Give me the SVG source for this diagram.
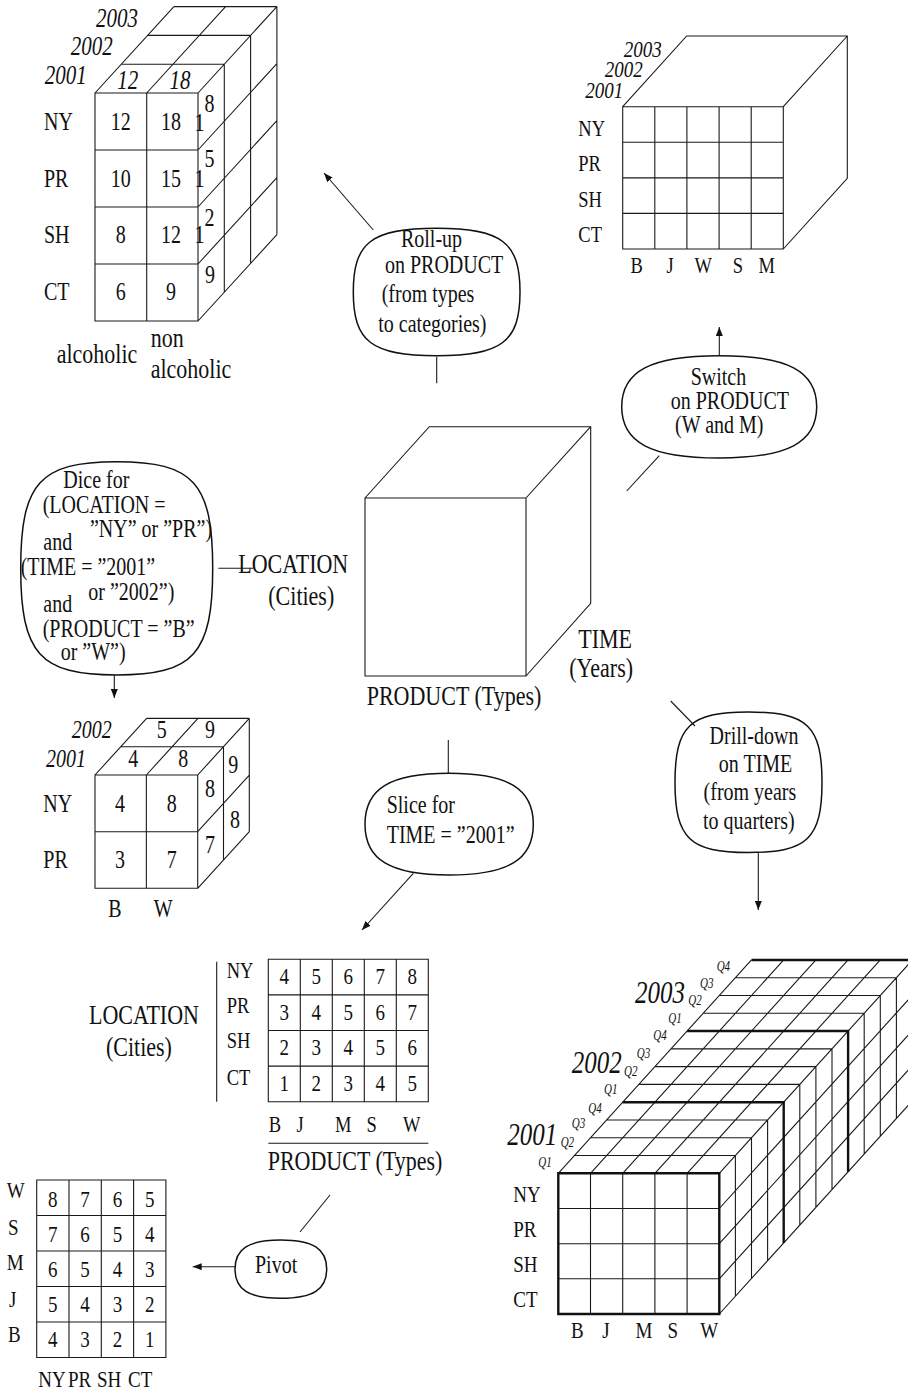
<svg xmlns="http://www.w3.org/2000/svg" width="908" height="1391" viewBox="0 0 908 1391">
<style>
text{font-family:"Liberation Serif","Times New Roman",serif;fill:#111;transform-box:fill-box;transform-origin:0 80.5%;transform:scaleY(1.25);}
.f11{font-size:11px}.f185{font-size:18.5px}.f19{font-size:19px}.f20{font-size:20px}.f21{font-size:21px}.f22{font-size:22px}.f25{font-size:25px}
.i{font-style:italic}
.m{text-anchor:middle}.e{text-anchor:end}
.ln{fill:none;stroke:#1a1a1a;stroke-width:1.1}
.th{fill:none;stroke:#111;stroke-width:2.4}
.bub{fill:#fff;stroke:#111;stroke-width:1.5}
.cn{fill:none;stroke:#1a1a1a;stroke-width:1.1}
</style>
<defs>
<marker id="ah" viewBox="0 0 10 10" refX="10" refY="5" markerWidth="9" markerHeight="7" markerUnits="userSpaceOnUse" orient="auto" preserveAspectRatio="none"><path d="M0,0 L10,5 L0,10 z" fill="#111"/></marker>
</defs>
<rect width="908" height="1391" fill="#fff"/>

<!-- Roll-up result cube -->
<g id="rollup-cube">
<path class="ln" d="M95,93 H198 V321 H95 Z M146.7,93 V321 M95,150 H198 M95,207 H198 M95,264 H198
M95,93 L173.9,6.6 M146.7,93 L225.6,6.6 M198,93 L276.9,6.6
M121.3,64.2 H224.3 M147.6,35.4 H250.6 M173.9,6.6 H276.9
M224.3,64.2 V292.2 M250.6,35.4 V263.4 M276.9,6.6 V234.6
M198,150 L276.9,63.6 M198,207 L276.9,120.6 M198,264 L276.9,177.6 M198,321 L276.9,234.6"/>
<text class="f21 i e" x="138" y="27">2003</text>
<text class="f21 i e" x="112.7" y="55">2002</text>
<text class="f21 i e" x="86.7" y="84">2001</text>
<text class="f21 i m" x="127.7" y="89">12</text>
<text class="f21 i m" x="180" y="89">18</text>
<text class="f20" x="44" y="130">NY</text>
<text class="f20" x="44" y="187">PR</text>
<text class="f20" x="44" y="243">SH</text>
<text class="f20" x="44" y="300">CT</text>
<text class="f20 m" x="120.7" y="130">12</text><text class="f20 m" x="171" y="130">18</text>
<text class="f20 m" x="120.7" y="187">10</text><text class="f20 m" x="171" y="187">15</text>
<text class="f20 m" x="120.7" y="243">8</text><text class="f20 m" x="171" y="243">12</text>
<text class="f20 m" x="120.7" y="300">6</text><text class="f20 m" x="171" y="300">9</text>
<text class="f20" x="194.5" y="130.7">1</text><text class="f20" x="204.5" y="112.5">8</text>
<text class="f20" x="194.5" y="186.7">1</text><text class="f20" x="204.5" y="167.5">5</text>
<text class="f20" x="194.5" y="243.3">1</text><text class="f20" x="204.5" y="226">2</text>
<text class="f20 m" x="210" y="283.3">9</text>
<text class="f22" x="56.7" y="363">alcoholic</text>
<text class="f22" x="150.7" y="347">non</text>
<text class="f22" x="150.7" y="378">alcoholic</text>
</g>

<!-- Switch result cube -->
<g id="switch-cube">
<path class="ln" d="M622.7,106.7 H783.3 V249 H622.7 Z M654.8,106.7 V249 M686.9,106.7 V249 M719.1,106.7 V249 M751.2,106.7 V249
M622.7,142.3 H783.3 M622.7,177.9 H783.3 M622.7,213.4 H783.3
M622.7,106.7 L686.7,36 H847.3 V178.3 L783.3,249 M783.3,106.7 L847.3,36"/>
<text class="f19 i e" x="661.7" y="56.7">2003</text>
<text class="f19 i e" x="642.7" y="76.7">2002</text>
<text class="f19 i e" x="623.3" y="98.3">2001</text>
<text class="f185" x="578.3" y="136">NY</text>
<text class="f185" x="578.3" y="170.7">PR</text>
<text class="f185" x="578.3" y="206.7">SH</text>
<text class="f185" x="578.3" y="241.7">CT</text>
<text class="f185 m" x="636.7" y="273.3">B</text>
<text class="f185 m" x="670" y="273.3">J</text>
<text class="f185 m" x="703.3" y="273.3">W</text>
<text class="f185 m" x="738" y="273.3">S</text>
<text class="f185 m" x="766.7" y="273.3">M</text>
</g>

<!-- Central cube -->
<g id="base-cube">
<path class="ln" d="M365,498 H526 V676 H365 Z M365,498 L429.3,426.7 H590.7 V603.3 L526,676 M526,498 L590.7,426.7"/>
<text class="f22" x="366.7" y="705">PRODUCT (Types)</text>
<text class="f22" x="578.3" y="648">TIME</text>
<text class="f22" x="569.3" y="677">(Years)</text>
<text class="f22" x="238.3" y="573.3">LOCATION</text>
<text class="f22" x="268.3" y="605">(Cities)</text>
</g>

<!-- Callouts -->
<g id="rollup-op">
<path class="bub" d="M436.65,228.3 C501.65,228.3 520,242.3 520,292 C520,341.7 501.65,355.7 436.65,355.7 C371.65,355.7 353.3,341.7 353.3,292 C353.3,242.3 371.65,228.3 436.65,228.3 Z"/>
<text class="f20" x="401" y="246.7">Roll-up</text>
<text class="f20" x="385" y="273.3">on PRODUCT</text>
<text class="f20" x="381.7" y="301.7">(from types</text>
<text class="f20" x="378.3" y="331.7">to categories)</text>
</g>
<g id="switch-op">
<path class="bub" d="M719.2,355.7 C787.45,355.7 816.7,371.05 816.7,406.85 C816.7,442.65 787.45,458 719.2,458 C650.95,458 621.7,442.65 621.7,406.85 C621.7,371.05 650.95,355.7 719.2,355.7 Z"/>
<text class="f20" x="690.7" y="385">Switch</text>
<text class="f20" x="670.7" y="409.3">on PRODUCT</text>
<text class="f20" x="675" y="433.2">(W and M)</text>
</g>
<g id="dice-op">
<path class="bub" d="M116.7,461.7 C193.5,461.7 212.7,483.05 212.7,568.35 C212.7,653.65 193.5,675 116.7,675 C39.9,675 20.7,653.65 20.7,568.35 C20.7,483.05 39.9,461.7 116.7,461.7 Z"/>
<text class="f20" x="63.3" y="488.3">Dice for</text>
<text class="f20" x="42.7" y="513.3">(LOCATION =</text>
<text class="f20" x="90" y="536.7">”NY” or ”PR”)</text>
<text class="f20" x="43.3" y="550">and</text>
<text class="f20" x="20.7" y="575">(TIME = ”2001”</text>
<text class="f20" x="88.3" y="600">or ”2002”)</text>
<text class="f20" x="43.3" y="611.7">and</text>
<text class="f20" x="42.7" y="636.7">(PRODUCT = ”B”</text>
<text class="f20" x="60.7" y="660">or ”W”)</text>
</g>
<g id="drilldown-op">
<path class="bub" d="M748.5,712 C807.3,712 822,726.05 822,782.25 C822,838.45 807.3,852.5 748.5,852.5 C689.7,852.5 675,838.45 675,782.25 C675,726.05 689.7,712 748.5,712 Z"/>
<text class="f20" x="709.6" y="744">Drill-down</text>
<text class="f20" x="718.8" y="772">on TIME</text>
<text class="f20" x="703.6" y="800">(from years</text>
<text class="f20" x="703" y="829">to quarters)</text>
</g>
<g id="slice-op">
<path class="bub" d="M449.15,773.3 C508.05,773.3 533.3,788.55 533.3,824.15 C533.3,859.75 508.05,875 449.15,875 C390.25,875 365,859.75 365,824.15 C365,788.55 390.25,773.3 449.15,773.3 Z"/>
<text class="f20" x="386.7" y="813.3">Slice for</text>
<text class="f20" x="386.7" y="843.3">TIME = ”2001”</text>
</g>
<g id="pivot-op">
<path class="bub" d="M280.85,1240 C312.95,1240 326.7,1248.75 326.7,1269.15 C326.7,1289.55 312.95,1298.3 280.85,1298.3 C248.75,1298.3 235,1289.55 235,1269.15 C235,1248.75 248.75,1240 280.85,1240 Z"/>
<text class="f20" x="255" y="1273.3">Pivot</text>
</g>

<!-- Dice result cube -->
<g id="dice-cube">
<path class="ln" d="M95,775 H197.7 V888.3 H95 Z M146.35,775 V888.3 M95,831.7 H197.7
M95,775 L146.6,718.4 M146.35,775 L197.95,718.4 M197.7,775 L249.3,718.4
M120.8,746.7 H223.5 M146.6,718.4 H249.3
M223.5,746.7 V860 M249.3,718.4 V831.7
M197.7,831.7 L249.3,775.1 M197.7,888.3 L249.3,831.7"/>
<text class="f20 i e" x="111.7" y="738.3">2002</text>
<text class="f20 i e" x="86" y="766.7">2001</text>
<text class="f20 m" x="161.7" y="738.3">5</text><text class="f20 m" x="210" y="738.3">9</text>
<text class="f20 m" x="133.3" y="766.7">4</text><text class="f20 m" x="183.3" y="766.7">8</text>
<text class="f20 m" x="120" y="811.7">4</text><text class="f20 m" x="171.7" y="811.7">8</text>
<text class="f20 m" x="120" y="868.3">3</text><text class="f20 m" x="171.7" y="868.3">7</text>
<text class="f20 m" x="210" y="796.7">8</text><text class="f20 m" x="233.3" y="773.3">9</text>
<text class="f20 m" x="210" y="853.3">7</text><text class="f20 m" x="235" y="828.3">8</text>
<text class="f20" x="43.3" y="811.7">NY</text>
<text class="f20" x="43.3" y="868.3">PR</text>
<text class="f20 m" x="115" y="916.7">B</text>
<text class="f20 m" x="163.3" y="916.7">W</text>
</g>

<!-- Slice result table -->
<g id="slice-table">
<path class="ln" d="M268.3,959.3 H428.3 V1101.7 H268.3 Z M300.3,959.3 V1101.7 M332.3,959.3 V1101.7 M364.3,959.3 V1101.7 M396.3,959.3 V1101.7
M268.3,994.9 H428.3 M268.3,1030.5 H428.3 M268.3,1066.1 H428.3
M216.7,961.7 V1101.7 M268.3,1143.3 H428.3"/>
<text class="f22" x="89" y="1024">LOCATION</text>
<text class="f22" x="106" y="1056">(Cities)</text>
<text class="f185" x="226.7" y="978.3">NY</text>
<text class="f185" x="226.7" y="1013.3">PR</text>
<text class="f185" x="226.7" y="1048.3">SH</text>
<text class="f185" x="226.7" y="1085">CT</text>
<text class="f19 m" x="284.3" y="984">4</text><text class="f19 m" x="316.3" y="984">5</text><text class="f19 m" x="348.3" y="984">6</text><text class="f19 m" x="380.3" y="984">7</text><text class="f19 m" x="412.3" y="984">8</text>
<text class="f19 m" x="284.3" y="1020">3</text><text class="f19 m" x="316.3" y="1020">4</text><text class="f19 m" x="348.3" y="1020">5</text><text class="f19 m" x="380.3" y="1020">6</text><text class="f19 m" x="412.3" y="1020">7</text>
<text class="f19 m" x="284.3" y="1055.5">2</text><text class="f19 m" x="316.3" y="1055.5">3</text><text class="f19 m" x="348.3" y="1055.5">4</text><text class="f19 m" x="380.3" y="1055.5">5</text><text class="f19 m" x="412.3" y="1055.5">6</text>
<text class="f19 m" x="284.3" y="1091.5">1</text><text class="f19 m" x="316.3" y="1091.5">2</text><text class="f19 m" x="348.3" y="1091.5">3</text><text class="f19 m" x="380.3" y="1091.5">4</text><text class="f19 m" x="412.3" y="1091.5">5</text>
<text class="f185 m" x="275" y="1131.7">B</text>
<text class="f185 m" x="300" y="1131.7">J</text>
<text class="f185 m" x="343.3" y="1131.7">M</text>
<text class="f185 m" x="371.7" y="1131.7">S</text>
<text class="f185 m" x="411.7" y="1131.7">W</text>
<text class="f22" x="267.7" y="1170">PRODUCT (Types)</text>
</g>

<!-- Drill-down result cube -->
<g id="drilldown-cube">
<path class="ln" d="M590.5,1173.3 V1314 M622.7,1173.3 V1314 M654.9,1173.3 V1314 M687.1,1173.3 V1314
M558.3,1208.5 H719.3 M558.3,1243.7 H719.3 M558.3,1278.8 H719.3
M558.3,1173.3 L751.5,959.94 M590.5,1173.3 L783.7,959.94 M622.7,1173.3 L815.9,959.94 M654.9,1173.3 L848.1,959.94 M687.1,1173.3 L880.3,959.94 M719.3,1173.3 L912.5,959.94
M719.3,1208.5 L912.5,995.14 M719.3,1243.7 L912.5,1030.34 M719.3,1278.8 L912.5,1065.44 M719.3,1314 L912.5,1100.64
M574.4,1155.52 H735.4 V1296.22 M590.5,1137.74 H751.5 V1278.44 M606.6,1119.96 H767.6 V1260.66
M638.8,1084.4 H799.8 V1225.1 M654.9,1066.62 H815.9 V1207.32 M671,1048.84 H832 V1189.54
M703.2,1013.28 H864.2 V1153.98 M719.3,995.5 H880.3 V1136.2 M735.4,977.72 H896.4 V1118.42"/>
<path class="th" d="M558.3,1173.3 H719.3 V1314 H558.3 Z M622.7,1102.18 H783.7 V1242.88 M687.1,1031.06 H848.1 V1171.76 M751.5,959.94 H912.5 V1100.64"/>
<text class="f25 i" x="507.3" y="1145">2001</text>
<text class="f25 i" x="571.7" y="1073.3">2002</text>
<text class="f25 i" x="635" y="1003">2003</text>
<text class="f11 i" x="538.3" y="1166.7">Q1</text>
<text class="f11 i" x="560.7" y="1146.7">Q2</text>
<text class="f11 i" x="571.7" y="1128.3">Q3</text>
<text class="f11 i" x="588.3" y="1113.3">Q4</text>
<text class="f11 i" x="604" y="1094">Q1</text>
<text class="f11 i" x="624" y="1076">Q2</text>
<text class="f11 i" x="636.7" y="1058.3">Q3</text>
<text class="f11 i" x="653.3" y="1040">Q4</text>
<text class="f11 i" x="668.3" y="1023.3">Q1</text>
<text class="f11 i" x="688.3" y="1005">Q2</text>
<text class="f11 i" x="700" y="988">Q3</text>
<text class="f11 i" x="716.7" y="970.7">Q4</text>
<text class="f19" x="513.3" y="1201.7">NY</text>
<text class="f19" x="513.3" y="1236.7">PR</text>
<text class="f19" x="513.3" y="1271.7">SH</text>
<text class="f19" x="513.3" y="1306.7">CT</text>
<text class="f19 m" x="577.3" y="1338.3">B</text>
<text class="f19 m" x="606" y="1338.3">J</text>
<text class="f19 m" x="644" y="1338.3">M</text>
<text class="f19 m" x="672.7" y="1338.3">S</text>
<text class="f19 m" x="709.3" y="1338.3">W</text>
</g>

<!-- Pivot result table -->
<g id="pivot-table">
<path class="ln" d="M36.7,1180 H165.9 V1357.5 H36.7 Z M69,1180 V1357.5 M101.3,1180 V1357.5 M133.6,1180 V1357.5
M36.7,1215.5 H165.9 M36.7,1251 H165.9 M36.7,1286.5 H165.9 M36.7,1322 H165.9"/>
<text class="f19" x="6.7" y="1198.3">W</text>
<text class="f19" x="8" y="1235">S</text>
<text class="f19" x="6.7" y="1270">M</text>
<text class="f19" x="9" y="1306.7">J</text>
<text class="f19" x="8" y="1341.7">B</text>
<text class="f19 m" x="52.8" y="1206.7">8</text><text class="f19 m" x="85.1" y="1206.7">7</text><text class="f19 m" x="117.4" y="1206.7">6</text><text class="f19 m" x="149.7" y="1206.7">5</text>
<text class="f19 m" x="52.8" y="1241.7">7</text><text class="f19 m" x="85.1" y="1241.7">6</text><text class="f19 m" x="117.4" y="1241.7">5</text><text class="f19 m" x="149.7" y="1241.7">4</text>
<text class="f19 m" x="52.8" y="1276.7">6</text><text class="f19 m" x="85.1" y="1276.7">5</text><text class="f19 m" x="117.4" y="1276.7">4</text><text class="f19 m" x="149.7" y="1276.7">3</text>
<text class="f19 m" x="52.8" y="1311.7">5</text><text class="f19 m" x="85.1" y="1311.7">4</text><text class="f19 m" x="117.4" y="1311.7">3</text><text class="f19 m" x="149.7" y="1311.7">2</text>
<text class="f19 m" x="52.8" y="1346.7">4</text><text class="f19 m" x="85.1" y="1346.7">3</text><text class="f19 m" x="117.4" y="1346.7">2</text><text class="f19 m" x="149.7" y="1346.7">1</text>
<text class="f19" x="38.3" y="1386.7">NY</text>
<text class="f19" x="68" y="1386.7">PR</text>
<text class="f19" x="97" y="1386.7">SH</text>
<text class="f19" x="128" y="1386.7">CT</text>
</g>

<!-- Connectors -->
<g id="connectors">
<path class="cn" d="M436.7,356.7 V383.3"/>
<path class="cn" d="M373.3,230 L324,173" marker-end="url(#ah)"/>
<path class="cn" d="M626.7,491 L659.3,455.7"/>
<path class="cn" d="M719.3,355.7 V327" marker-end="url(#ah)"/>
<path class="cn" d="M218.3,568.3 H253.3"/>
<path class="cn" d="M114.3,675 V698" marker-end="url(#ah)"/>
<path class="cn" d="M448.3,740 V773.3"/>
<path class="cn" d="M413.3,873.3 L362,930" marker-end="url(#ah)"/>
<path class="cn" d="M670.7,701 L695,726"/>
<path class="cn" d="M758.3,852.5 V910" marker-end="url(#ah)"/>
<path class="cn" d="M300,1232 L330,1195"/>
<path class="cn" d="M235,1266.7 H192.7" marker-end="url(#ah)"/>
</g>
</svg>
